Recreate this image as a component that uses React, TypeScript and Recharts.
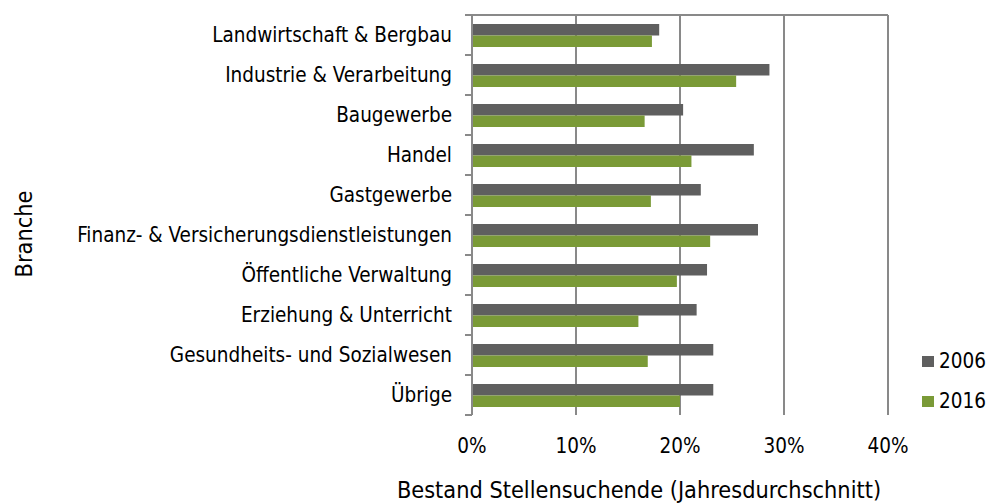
import { Bar, BarChart, CartesianGrid, XAxis, YAxis } from 'recharts'

const categories = [
  'Landwirtschaft & Bergbau',
  'Industrie & Verarbeitung',
  'Baugewerbe',
  'Handel',
  'Gastgewerbe',
  'Finanz- & Versicherungsdienstleistungen',
  'Öffentliche Verwaltung',
  'Erziehung & Unterricht',
  'Gesundheits- und Sozialwesen',
  'Übrige',
]
const values2006 = [18.0, 28.6, 20.3, 27.1, 22.0, 27.5, 22.6, 21.6, 23.2, 23.2]
const values2016 = [17.3, 25.4, 16.6, 21.1, 17.2, 22.9, 19.7, 16.0, 16.9, 20.0]
const xTicks = [0, 10, 20, 30, 40]

const FONT = '"DejaVu Sans Condensed", "DejaVu Sans", sans-serif'
const FONT_SIZE = 20.5
const TITLE_SIZE = 23.3
const AXIS_GREY = '#898989'
const COLOR_2006 = '#5f5f5f'
const COLOR_2016 = '#7a9a37'

const series = [
  { key: 'y2006', name: '2006', color: COLOR_2006 },
  { key: 'y2016', name: '2016', color: COLOR_2016 },
]

const data = categories.map((name, i) => ({
  name,
  y2006: values2006[i],
  y2016: values2016[i],
}))

// category labels, plus Excel-style tick marks on the band boundaries
function CategoryTick(props: any) {
  const { x, y, payload, index } = props
  const half = payload?.offset ?? 20
  const axisX = x + 20
  const isLast = index === categories.length - 1
  return (
    <g>
      <line x1={axisX - 7} x2={axisX} y1={y - half} y2={y - half} stroke={AXIS_GREY} strokeWidth={2} />
      {isLast ? (
        <line x1={axisX - 7} x2={axisX} y1={y + half} y2={y + half} stroke={AXIS_GREY} strokeWidth={2} />
      ) : null}
      <text x={x} y={y} dy="0.35em" textAnchor="end" fill="#000" fontFamily={FONT} fontSize={FONT_SIZE}>
        {payload.value}
      </text>
    </g>
  )
}

export default function App() {
  return (
    <div style={{ position: 'fixed', left: 0, top: 0, width: 987, height: 503, background: '#fff' }}>
      <BarChart
        width={987}
        height={503}
        data={data}
        layout="vertical"
        margin={{ top: 0, right: 99, bottom: 0, left: 0 }}
        barGap={0}
      >
        <CartesianGrid horizontal={false} stroke={AXIS_GREY} strokeWidth={2} verticalValues={xTicks} />
        <XAxis
          type="number"
          domain={[0, 40]}
          ticks={xTicks}
          height={88}
          axisLine={false}
          tickLine={false}
          tickSize={0}
          tickMargin={23}
          tickFormatter={(v) => `${v}%`}
          tick={{ fill: '#000', fontFamily: FONT, fontSize: FONT_SIZE }}
          label={{
            content: ({ viewBox }: any) => (
              <text
                x={viewBox.x + viewBox.width / 2 - 41}
                y={viewBox.y + 83}
                textAnchor="middle"
                fill="#000"
                fontFamily={FONT}
                fontSize={TITLE_SIZE}
              >
                Bestand Stellensuchende (Jahresdurchschnitt)
              </text>
            ),
          }}
        />
        <XAxis
          xAxisId="top"
          orientation="top"
          type="number"
          domain={[0, 40]}
          ticks={xTicks}
          height={15}
          tickSize={7}
          tickFormatter={() => ''}
          axisLine={{ stroke: AXIS_GREY, strokeWidth: 2 }}
          tickLine={{ stroke: AXIS_GREY, strokeWidth: 2 }}
        />
        <YAxis
          type="category"
          dataKey="name"
          width={472}
          tickSize={0}
          tickMargin={20}
          tickLine={false}
          axisLine={{ stroke: AXIS_GREY, strokeWidth: 2 }}
          tick={<CategoryTick />}
          interval={0}
          label={{
            content: () => (
              <text
                x={23}
                y={234}
                transform="rotate(-90 23 234)"
                textAnchor="middle"
                dominantBaseline="central"
                fill="#000"
                fontFamily={FONT}
                fontSize={TITLE_SIZE}
              >
                Branche
              </text>
            ),
          }}
        />
        {series.map((s) => (
          <Bar key={s.key} dataKey={s.key} name={s.name} fill={s.color} barSize={11.5} isAnimationActive={false} />
        ))}
      </BarChart>
      <div
        style={{
          position: 'absolute',
          left: 922,
          top: 341,
          fontFamily: FONT,
          fontSize: FONT_SIZE,
          color: '#000',
        }}
      >
        {series.map((s) => (
          <div key={s.key} style={{ display: 'flex', alignItems: 'center', height: 40 }}>
            <span style={{ display: 'inline-block', width: 12, height: 11, background: s.color, marginRight: 5 }} />
            <span>{s.name}</span>
          </div>
        ))}
      </div>
    </div>
  )
}
